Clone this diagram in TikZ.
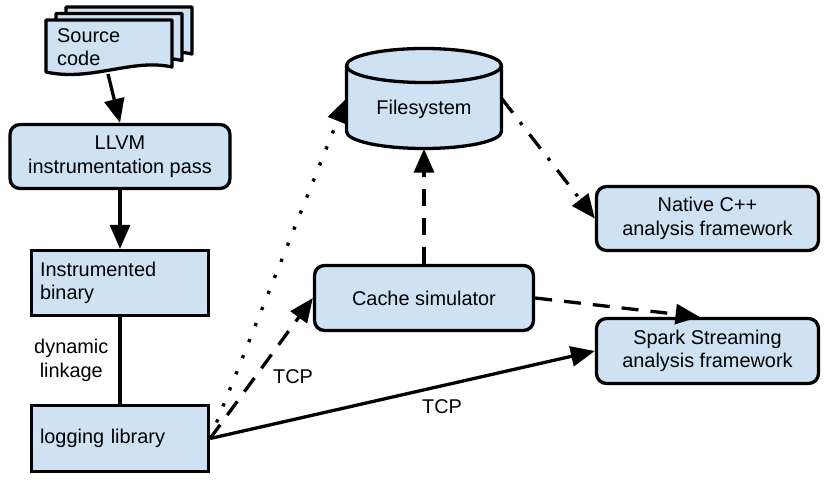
\documentclass[tikz,border=0pt]{standalone}
\usepackage{fontspec}
\setmainfont{Liberation Sans}
\usetikzlibrary{arrows.meta,calc}
\definecolor{boxblue}{HTML}{CFE2F3}
\newcommand\docpage[2]{%
  \path[docstyle] (#1,#2) -- ++(126,0) -- ++(0,47)
    .. controls +(-40,-9) and +(45,10) .. ++(-126,5) -- cycle;}
\begin{document}
\begin{tikzpicture}[x=1pt,y=-1pt,
  every node/.style={font=\fontsize{19.9}{23.5}\selectfont},
  docstyle/.style={draw=black,line width=3.3pt,fill=boxblue,line join=round},
  rbox/.style={draw=black,line width=3.3pt,fill=boxblue,rounded corners=10pt,
    align=center,inner sep=0pt},
  sbox/.style={draw=black,line width=3.3pt,fill=boxblue,align=left,
    inner xsep=8.5pt,inner ysep=0pt,text width=160pt,minimum height=65pt},
  conn/.style={line width=3.3pt,-{Triangle[length=24pt,width=20pt]}},
  dashline/.style={dash pattern=on 17pt off 12pt},
  dotline/.style={dash pattern=on 3.3pt off 14pt},
  dashdotline/.style={dash pattern=on 18pt off 12pt on 3.3pt off 12pt},
  lbl/.style={inner sep=0pt}]
\useasboundingbox (0,0) rectangle (830,484);

% Source code stacked documents
\docpage{66}{7}
\docpage{56}{13.5}
\docpage{46}{20}
\node[lbl,anchor=west,align=left] (src) at (57,47) {Source\\code};
\coordinate (srcb) at (108,74);

% boxes
\node[rbox,minimum width=220pt,minimum height=64pt] (llvm) at (120,156.5)
  {LLVM\\instrumentation pass};
\node[sbox] (bin) at (120,283) {Instrumented\\binary};
\node[sbox,minimum height=66pt] (log) at (120,438.5) {logging library};
\node[rbox,minimum width=219pt,minimum height=65pt] (cache) at (424,298)
  {Cache simulator};
\node[rbox,minimum width=222pt,minimum height=64pt] (native) at (707.5,218.5)
  {Native C++\\analysis framework};
\node[rbox,minimum width=222pt,minimum height=65pt] (spark) at (707.5,351)
  {Spark Streaming\\analysis framework};

% Filesystem cylinder
\path[docstyle] (346.5,65.5) -- (346.5,131.5)
  arc[start angle=180,end angle=0,x radius=77.5,y radius=17]
  -- (501.5,65.5)
  arc[start angle=0,end angle=-180,x radius=77.5,y radius=17] -- cycle;
\draw[line width=3.3pt] (346.5,65.5)
  arc[start angle=180,end angle=0,x radius=77.5,y radius=17];
\node[minimum width=155pt,minimum height=100pt,inner sep=0pt] (fs) at (424,98.5) {};
\node[lbl,anchor=base] (fstext) at (424,115) {Filesystem};

% connectors
\draw[conn] (srcb) -- (llvm.north);
\draw[conn] (llvm.south) -- (bin.north);
\draw[line width=3.3pt] (bin.south) -- (log.north)
  node[lbl,midway,left=10pt,align=center] (dyn) {dynamic\\linkage};
\draw[conn,dashline] (cache.north) -- (fs.south);
\draw[conn,dashdotline] (fs.east) -- (native.west);
\draw[conn,dashline] (cache.east) -- ([xshift=-8pt]spark.north);
\draw[conn,dotline] (log.east) -- (fs.west);
\draw[conn,dashline] (log.east) -- (cache.west);
\draw[conn] (log.east) -- (spark.west);
\node[lbl] (tcp1) at (293,377) {TCP};
\node[lbl] (tcp2) at (442,407) {TCP};
\end{tikzpicture}
\end{document}
